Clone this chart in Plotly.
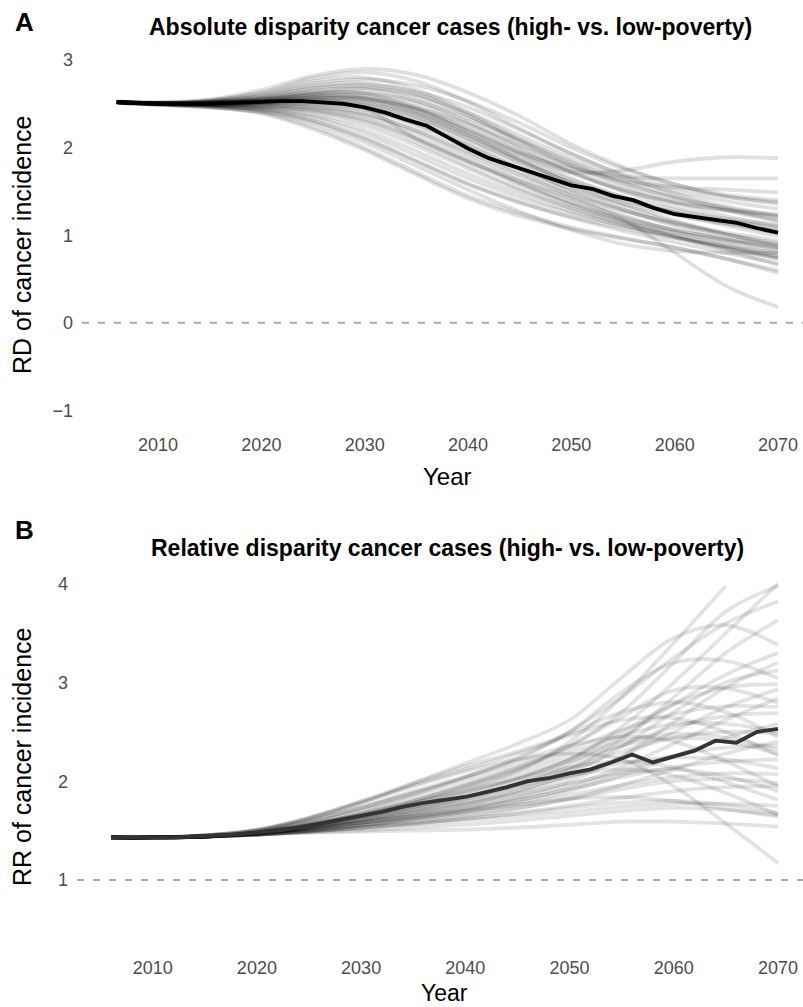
import plotly.graph_objects as go

# ---------------- data ----------------
YEARS = [2006, 2010, 2015, 2020, 2025, 2030, 2035, 2040, 2045, 2050, 2055, 2060, 2065, 2070]
MEAN_YEARS = [2006, 2008, 2010, 2012, 2014, 2016, 2018, 2020, 2022, 2024, 2026, 2028, 2030,
              2032, 2034, 2036, 2038, 2040, 2042, 2044, 2046, 2048, 2050, 2052, 2054, 2056,
              2058, 2060, 2062, 2064, 2066, 2068, 2070]

# Panel A: risk difference simulations
rd_01 = [2.53, 2.52, 2.55, 2.66, 2.82, 2.90, 2.83, 2.63, 2.36, 2.04, 1.78, 1.58, 1.44, 1.36]
rd_02 = [2.52, 2.51, 2.54, 2.63, 2.79, 2.86, 2.76, 2.52, 2.22, 1.93, 1.70, 1.54, 1.44, 1.38]
rd_03 = [2.52, 2.51, 2.54, 2.62, 2.76, 2.80, 2.66, 2.40, 2.10, 1.83, 1.60, 1.42, 1.28, 1.16]
rd_04 = [2.52, 2.51, 2.53, 2.60, 2.73, 2.78, 2.71, 2.53, 2.28, 2.00, 1.76, 1.58, 1.46, 1.40]
rd_05 = [2.51, 2.50, 2.53, 2.59, 2.71, 2.74, 2.62, 2.37, 2.06, 1.78, 1.55, 1.37, 1.22, 1.10]
rd_06 = [2.52, 2.51, 2.52, 2.57, 2.68, 2.72, 2.64, 2.46, 2.20, 1.93, 1.68, 1.48, 1.33, 1.22]
rd_07 = [2.52, 2.50, 2.52, 2.56, 2.65, 2.67, 2.54, 2.30, 2.01, 1.73, 1.50, 1.32, 1.18, 1.06]
rd_08 = [2.52, 2.51, 2.51, 2.55, 2.63, 2.68, 2.60, 2.40, 2.14, 1.88, 1.66, 1.50, 1.39, 1.30]
rd_09 = [2.52, 2.50, 2.51, 2.54, 2.61, 2.62, 2.50, 2.27, 1.98, 1.72, 1.52, 1.38, 1.28, 1.20]
rd_10 = [2.51, 2.50, 2.51, 2.54, 2.59, 2.59, 2.46, 2.21, 1.93, 1.65, 1.43, 1.25, 1.11, 0.99]
rd_11 = [2.52, 2.50, 2.50, 2.53, 2.57, 2.56, 2.41, 2.16, 1.87, 1.59, 1.36, 1.17, 1.01, 0.87]
rd_12 = [2.52, 2.51, 2.51, 2.53, 2.56, 2.55, 2.45, 2.27, 2.03, 1.79, 1.59, 1.43, 1.31, 1.22]
rd_13 = [2.52, 2.50, 2.50, 2.52, 2.54, 2.51, 2.36, 2.11, 1.83, 1.56, 1.33, 1.15, 1.01, 0.89]
rd_14 = [2.52, 2.50, 2.50, 2.51, 2.52, 2.48, 2.32, 2.07, 1.79, 1.51, 1.29, 1.11, 0.96, 0.83]
rd_15 = [2.52, 2.51, 2.50, 2.51, 2.51, 2.46, 2.29, 2.03, 1.75, 1.49, 1.29, 1.13, 1.01, 0.91]
rd_16 = [2.52, 2.50, 2.49, 2.50, 2.49, 2.43, 2.25, 1.99, 1.71, 1.45, 1.23, 1.05, 0.91, 0.79]
rd_17 = [2.52, 2.50, 2.49, 2.49, 2.47, 2.39, 2.19, 1.93, 1.65, 1.41, 1.21, 1.06, 0.95, 0.86]
rd_18 = [2.52, 2.50, 2.49, 2.48, 2.45, 2.36, 2.16, 1.89, 1.61, 1.37, 1.17, 1.01, 0.87, 0.75]
rd_19 = [2.52, 2.50, 2.49, 2.47, 2.43, 2.33, 2.11, 1.85, 1.59, 1.36, 1.19, 1.06, 0.96, 0.89]
rd_20 = [2.51, 2.50, 2.48, 2.46, 2.41, 2.29, 2.06, 1.79, 1.53, 1.31, 1.13, 0.98, 0.85, 0.73]
rd_21 = [2.52, 2.50, 2.48, 2.45, 2.38, 2.25, 2.02, 1.76, 1.51, 1.31, 1.15, 1.03, 0.93, 0.85]
rd_22 = [2.52, 2.50, 2.48, 2.44, 2.36, 2.20, 1.96, 1.70, 1.47, 1.27, 1.11, 0.97, 0.85, 0.74]
rd_23 = [2.52, 2.50, 2.48, 2.44, 2.34, 2.16, 1.91, 1.65, 1.43, 1.25, 1.11, 0.99, 0.87, 0.76]
rd_24 = [2.52, 2.50, 2.47, 2.43, 2.31, 2.11, 1.85, 1.59, 1.38, 1.20, 1.05, 0.92, 0.80, 0.68]
rd_25 = [2.52, 2.49, 2.46, 2.40, 2.24, 2.00, 1.72, 1.45, 1.25, 1.09, 0.97, 0.86, 0.73, 0.60]
rd_26 = [2.51, 2.49, 2.46, 2.41, 2.28, 2.06, 1.79, 1.52, 1.27, 1.06, 0.90, 0.82, 0.80, 0.80]
rd_27 = [2.52, 2.51, 2.52, 2.56, 2.63, 2.62, 2.45, 2.18, 1.92, 1.72, 1.74, 1.84, 1.89, 1.88]
rd_28 = [2.52, 2.51, 2.52, 2.55, 2.60, 2.57, 2.42, 2.19, 1.94, 1.76, 1.67, 1.65, 1.65, 1.65]
rd_29 = [2.52, 2.50, 2.50, 2.52, 2.55, 2.45, 2.10, 1.84, 1.62, 1.42, 1.18, 0.80, 0.42, 0.18]
rd_30 = [2.52, 2.51, 2.53, 2.58, 2.68, 2.70, 2.58, 2.36, 2.08, 1.80, 1.62, 1.55, 1.52, 1.49]
rd_31 = [2.52, 2.50, 2.51, 2.53, 2.58, 2.57, 2.44, 2.22, 1.96, 1.71, 1.51, 1.37, 1.29, 1.24]
rd_32 = [2.52, 2.50, 2.50, 2.50, 2.50, 2.44, 2.27, 2.02, 1.76, 1.53, 1.36, 1.23, 1.13, 1.05]
rd_33 = [2.52, 2.50, 2.49, 2.48, 2.46, 2.38, 2.20, 1.95, 1.69, 1.46, 1.28, 1.14, 1.03, 0.94]
rd_34 = [2.52, 2.50, 2.49, 2.47, 2.42, 2.31, 2.10, 1.84, 1.58, 1.35, 1.16, 0.99, 0.83, 0.66]
rd_35 = [2.52, 2.49, 2.47, 2.42, 2.30, 2.10, 1.84, 1.58, 1.37, 1.21, 1.08, 0.97, 0.88, 0.80]
rd_36 = [2.51, 2.49, 2.46, 2.39, 2.21, 1.97, 1.69, 1.42, 1.22, 1.07, 0.96, 0.86, 0.73, 0.57]
rd_37 = [2.52, 2.51, 2.52, 2.55, 2.61, 2.63, 2.53, 2.33, 2.09, 1.84, 1.63, 1.45, 1.30, 1.17]
rd_38 = [2.52, 2.50, 2.51, 2.53, 2.57, 2.54, 2.39, 2.14, 1.86, 1.60, 1.40, 1.26, 1.16, 1.09]
rd_39 = [2.52, 2.50, 2.50, 2.51, 2.53, 2.49, 2.34, 2.10, 1.84, 1.60, 1.41, 1.26, 1.14, 1.02]
rd_40 = [2.52, 2.50, 2.50, 2.52, 2.55, 2.52, 2.38, 2.14, 1.88, 1.63, 1.44, 1.29, 1.19, 1.12]

rd_mean = [2.52, 2.51, 2.50, 2.50, 2.50, 2.51, 2.51, 2.52, 2.53, 2.53, 2.52, 2.50, 2.46,
           2.40, 2.32, 2.25, 2.12, 1.99, 1.88, 1.80, 1.73, 1.65, 1.57, 1.53, 1.45, 1.40,
           1.31, 1.24, 1.21, 1.17, 1.14, 1.08, 1.03]

# Panel B: risk ratio simulations (None = outside the 4.0 limit, removed)
rr_01 = [1.43, 1.43, 1.44, 1.48, 1.56, 1.66, 1.78, 1.92, 2.10, 2.40, 2.85, 3.40, 3.98, None]
rr_02 = [1.43, 1.43, 1.44, 1.47, 1.54, 1.63, 1.74, 1.86, 2.02, 2.22, 2.55, 3.00, 3.50, 4.00]
rr_03 = [1.43, 1.43, 1.44, 1.48, 1.55, 1.66, 1.80, 1.96, 2.14, 2.36, 2.70, 3.20, 3.72, 3.98]
rr_04 = [1.43, 1.43, 1.44, 1.48, 1.57, 1.70, 1.86, 2.04, 2.24, 2.50, 2.85, 3.25, 3.60, 3.82]
rr_05 = [1.43, 1.43, 1.44, 1.47, 1.53, 1.61, 1.70, 1.80, 1.94, 2.12, 2.42, 2.85, 3.30, 3.63]
rr_06 = [1.43, 1.43, 1.45, 1.50, 1.62, 1.78, 1.98, 2.18, 2.38, 2.62, 3.05, 3.45, 3.58, 3.38]
rr_07 = [1.43, 1.43, 1.44, 1.49, 1.59, 1.73, 1.88, 2.04, 2.22, 2.50, 2.90, 3.20, 3.22, 3.04]
rr_08 = [1.43, 1.43, 1.44, 1.47, 1.52, 1.59, 1.67, 1.76, 1.88, 2.04, 2.25, 2.50, 2.75, 2.93]
rr_09 = [1.43, 1.43, 1.44, 1.48, 1.56, 1.67, 1.80, 1.95, 2.12, 2.35, 2.65, 2.92, 2.94, 2.79]
rr_10 = [1.43, 1.43, 1.44, 1.47, 1.53, 1.61, 1.71, 1.82, 1.96, 2.14, 2.36, 2.55, 2.66, 2.69]
rr_11 = [1.43, 1.43, 1.45, 1.51, 1.63, 1.80, 1.98, 2.15, 2.30, 2.48, 2.70, 2.80, 2.70, 2.45]
rr_12 = [1.43, 1.43, 1.44, 1.48, 1.55, 1.65, 1.77, 1.90, 2.04, 2.20, 2.36, 2.44, 2.40, 2.28]
rr_13 = [1.43, 1.43, 1.44, 1.47, 1.53, 1.60, 1.69, 1.79, 1.91, 2.05, 2.18, 2.24, 2.22, 2.13]
rr_14 = [1.43, 1.43, 1.45, 1.50, 1.60, 1.74, 1.90, 2.05, 2.20, 2.36, 2.45, 2.40, 2.20, 1.95]
rr_15 = [1.43, 1.43, 1.44, 1.48, 1.56, 1.66, 1.78, 1.90, 2.02, 2.14, 2.20, 2.14, 1.99, 1.81]
rr_16 = [1.43, 1.43, 1.44, 1.47, 1.52, 1.58, 1.64, 1.70, 1.76, 1.82, 1.84, 1.80, 1.72, 1.64]
rr_17 = [1.43, 1.43, 1.44, 1.46, 1.48, 1.49, 1.50, 1.51, 1.53, 1.56, 1.59, 1.59, 1.57, 1.54]
rr_18 = [1.43, 1.43, 1.45, 1.50, 1.62, 1.78, 1.95, 2.10, 2.22, 2.28, 2.22, 1.95, 1.57, 1.17]
rr_19 = [1.43, 1.43, 1.44, 1.46, 1.50, 1.56, 1.63, 1.72, 1.84, 2.00, 2.25, 2.60, 2.95, 3.20]
rr_20 = [1.43, 1.43, 1.44, 1.47, 1.52, 1.58, 1.66, 1.76, 1.90, 2.08, 2.35, 2.70, 3.00, 3.12]
rr_21 = [1.43, 1.43, 1.44, 1.48, 1.55, 1.64, 1.75, 1.88, 2.03, 2.22, 2.50, 2.78, 2.95, 2.98]
rr_22 = [1.43, 1.43, 1.44, 1.47, 1.51, 1.56, 1.62, 1.69, 1.78, 1.90, 2.06, 2.25, 2.44, 2.58]
rr_23 = [1.43, 1.43, 1.44, 1.46, 1.49, 1.53, 1.58, 1.64, 1.72, 1.82, 1.96, 2.12, 2.28, 2.40]
rr_24 = [1.43, 1.43, 1.44, 1.47, 1.52, 1.58, 1.65, 1.72, 1.81, 1.92, 2.04, 2.14, 2.20, 2.22]
rr_25 = [1.43, 1.43, 1.44, 1.46, 1.50, 1.55, 1.61, 1.68, 1.76, 1.86, 1.96, 2.04, 2.08, 2.07]
rr_26 = [1.43, 1.43, 1.44, 1.46, 1.49, 1.53, 1.57, 1.62, 1.68, 1.75, 1.83, 1.90, 1.94, 1.95]
rr_27 = [1.43, 1.43, 1.44, 1.46, 1.49, 1.52, 1.56, 1.60, 1.64, 1.69, 1.74, 1.77, 1.77, 1.75]
rr_28 = [1.43, 1.43, 1.44, 1.46, 1.49, 1.53, 1.57, 1.62, 1.67, 1.73, 1.78, 1.80, 1.76, 1.68]
rr_29 = [1.43, 1.43, 1.44, 1.47, 1.53, 1.60, 1.68, 1.77, 1.87, 1.98, 2.08, 2.12, 2.05, 1.90]
rr_30 = [1.43, 1.43, 1.44, 1.48, 1.56, 1.67, 1.80, 1.94, 2.08, 2.24, 2.40, 2.48, 2.44, 2.32]
rr_31 = [1.43, 1.43, 1.45, 1.50, 1.60, 1.73, 1.88, 2.02, 2.16, 2.32, 2.52, 2.68, 2.76, 2.75]
rr_32 = [1.43, 1.43, 1.44, 1.49, 1.58, 1.70, 1.84, 1.98, 2.12, 2.28, 2.46, 2.58, 2.58, 2.50]
rr_33 = [1.43, 1.43, 1.44, 1.47, 1.52, 1.58, 1.65, 1.73, 1.83, 1.96, 2.14, 2.38, 2.62, 2.84]
rr_34 = [1.43, 1.43, 1.44, 1.46, 1.50, 1.55, 1.60, 1.66, 1.73, 1.82, 1.92, 2.00, 2.02, 1.98]
rr_35 = [1.43, 1.43, 1.44, 1.48, 1.55, 1.64, 1.74, 1.84, 1.95, 2.06, 2.12, 2.06, 1.88, 1.66]
rr_36 = [1.43, 1.43, 1.44, 1.46, 1.48, 1.50, 1.53, 1.56, 1.60, 1.65, 1.70, 1.73, 1.71, 1.66]
rr_37 = [1.43, 1.43, 1.44, 1.47, 1.53, 1.61, 1.71, 1.83, 1.98, 2.18, 2.45, 2.78, 3.08, 3.30]
rr_38 = [1.43, 1.43, 1.44, 1.47, 1.54, 1.63, 1.73, 1.84, 1.97, 2.12, 2.30, 2.44, 2.50, 2.48]
rr_39 = [1.43, 1.43, 1.44, 1.46, 1.50, 1.55, 1.62, 1.70, 1.80, 1.93, 2.10, 2.26, 2.34, 2.36]
rr_40 = [1.43, 1.43, 1.45, 1.51, 1.63, 1.79, 1.96, 2.12, 2.28, 2.46, 2.62, 2.64, 2.50, 2.26]

rr_mean = [1.43, 1.43, 1.43, 1.43, 1.44, 1.45, 1.46, 1.48, 1.50, 1.53, 1.57, 1.61, 1.65,
           1.69, 1.74, 1.78, 1.81, 1.84, 1.89, 1.94, 2.00, 2.03, 2.08, 2.12, 2.19, 2.27,
           2.19, 2.25, 2.31, 2.41, 2.39, 2.50, 2.53]

RD_TICKS = [-1, 0, 1, 2, 3]
RR_TICKS = [1, 2, 3, 4]
X_TICKS = [2010, 2020, 2030, 2040, 2050, 2060, 2070]

TITLE_A = "Absolute disparity cancer cases (high- vs. low-poverty)"
TITLE_B = "Relative disparity cancer cases (high- vs. low-poverty)"

rd_sims = [rd_01, rd_02, rd_03, rd_04, rd_05, rd_06, rd_07, rd_08, rd_09, rd_10,
           rd_11, rd_12, rd_13, rd_14, rd_15, rd_16, rd_17, rd_18, rd_19, rd_20,
           rd_21, rd_22, rd_23, rd_24, rd_25, rd_26, rd_27, rd_28, rd_29, rd_30,
           rd_31, rd_32, rd_33, rd_34, rd_35, rd_36, rd_37, rd_38, rd_39, rd_40]
rr_sims = [rr_01, rr_02, rr_03, rr_04, rr_05, rr_06, rr_07, rr_08, rr_09, rr_10,
           rr_11, rr_12, rr_13, rr_14, rr_15, rr_16, rr_17, rr_18, rr_19, rr_20,
           rr_21, rr_22, rr_23, rr_24, rr_25, rr_26, rr_27, rr_28, rr_29, rr_30,
           rr_31, rr_32, rr_33, rr_34, rr_35, rr_36, rr_37, rr_38, rr_39, rr_40]

# ---------------- figure ----------------
W, H = 803, 1007
FONT = "Liberation Sans, Arial, Helvetica, sans-serif"


def px(x):
    return x / W


def py(y):
    return 1 - y / H


fig = go.Figure()

for s in rd_sims:
    fig.add_trace(go.Scatter(x=YEARS, y=s, mode="lines", xaxis="x", yaxis="y",
                             line=dict(color="rgba(0,0,0,0.12)", width=3.8,
                                       shape="spline", smoothing=1.0),
                             hoverinfo="skip", showlegend=False))
fig.add_trace(go.Scatter(x=MEAN_YEARS, y=rd_mean, mode="lines", xaxis="x", yaxis="y",
                         line=dict(color="#000000", width=3.8), showlegend=False))

for s in rr_sims:
    fig.add_trace(go.Scatter(x=YEARS, y=s, mode="lines", xaxis="x2", yaxis="y2",
                             line=dict(color="rgba(0,0,0,0.11)", width=3.8,
                                       shape="spline", smoothing=1.0),
                             connectgaps=False, hoverinfo="skip", showlegend=False))
fig.add_trace(go.Scatter(x=MEAN_YEARS, y=rr_mean, mode="lines", xaxis="x2", yaxis="y2",
                         line=dict(color="#333333", width=3.8), showlegend=False))

# reference lines
fig.add_shape(type="line", xref="x domain", yref="y", x0=0, x1=1, y0=0, y1=0,
              line=dict(color="#aaaaaa", width=2, dash="7px,9px"), layer="below")
fig.add_shape(type="line", xref="x2 domain", yref="y2", x0=0, x1=1, y0=1, y1=1,
              line=dict(color="#aaaaaa", width=2, dash="7px,9px"), layer="below")

tickfont = dict(family=FONT, size=18, color="#4d4d4d")
common_ax = dict(showgrid=False, zeroline=False, showline=False, ticks="",
                 tickfont=tickfont, fixedrange=True)

fig.update_layout(
    width=W, height=H,
    margin=dict(l=0, r=0, t=0, b=0),
    paper_bgcolor="white", plot_bgcolor="white",
    showlegend=False,
    font=dict(family=FONT),
    xaxis=dict(domain=[px(82), 1], range=[2002.64, 2072.42], anchor="y",
               tickvals=X_TICKS, ticklabelstandoff=4, **common_ax),
    yaxis=dict(domain=[py(428), py(42.5)], range=[-1.2, 3.2], anchor="x",
               tickvals=RD_TICKS, ticklabelstandoff=8, **common_ax),
    xaxis2=dict(domain=[px(77), 1], range=[2002.74, 2072.4], anchor="y2",
                tickvals=X_TICKS, ticklabelstandoff=5, **common_ax),
    yaxis2=dict(domain=[py(950), py(567)], range=[0.29, 4.17], anchor="x2",
                tickvals=RR_TICKS, ticklabelstandoff=8, **common_ax),
)

ann = []
ann.append(dict(text="<b>A</b>", x=px(24), y=py(22), xref="paper", yref="paper",
                showarrow=False, xanchor="center", yanchor="middle",
                font=dict(family=FONT, size=26, color="black")))
ann.append(dict(text="<b>B</b>", x=px(24), y=py(530), xref="paper", yref="paper",
                showarrow=False, xanchor="center", yanchor="middle",
                font=dict(family=FONT, size=26, color="black")))
ann.append(dict(text="<b>" + TITLE_A + "</b>", x=px(450), y=py(27), xref="paper", yref="paper",
                showarrow=False, xanchor="center", yanchor="middle",
                font=dict(family=FONT, size=23, color="black")))
ann.append(dict(text="<b>" + TITLE_B + "</b>", x=px(447), y=py(548), xref="paper", yref="paper",
                showarrow=False, xanchor="center", yanchor="middle",
                font=dict(family=FONT, size=23, color="black")))
ann.append(dict(text="RD of cancer incidence", x=px(22), y=py(245), xref="paper", yref="paper",
                showarrow=False, xanchor="center", yanchor="middle", textangle=-90,
                font=dict(family=FONT, size=25, color="black")))
ann.append(dict(text="RR of cancer incidence", x=px(22), y=py(757), xref="paper", yref="paper",
                showarrow=False, xanchor="center", yanchor="middle", textangle=-90,
                font=dict(family=FONT, size=25, color="black")))
ann.append(dict(text="Year", x=px(447), y=py(476), xref="paper", yref="paper",
                showarrow=False, xanchor="center", yanchor="middle",
                font=dict(family=FONT, size=24, color="black")))
ann.append(dict(text="Year", x=px(444), y=py(993), xref="paper", yref="paper",
                showarrow=False, xanchor="center", yanchor="middle",
                font=dict(family=FONT, size=23, color="black")))
fig.update_layout(annotations=ann)

fig.write_html("out.html", config={"displayModeBar": False},
               post_script="document.body.style.margin='0';document.body.style.overflow='hidden';")
